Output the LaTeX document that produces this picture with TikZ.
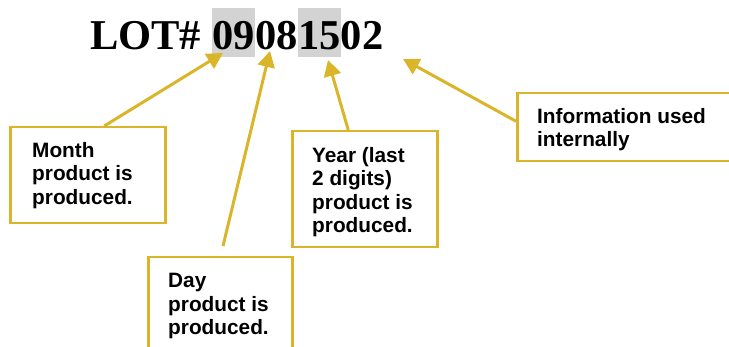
\documentclass[tikz,border=0pt]{standalone}
\usepackage{fontspec}
\setmainfont{Liberation Sans}
\newfontfamily\titlefont{Liberation Serif}
\usetikzlibrary{arrows.meta}
\definecolor{gold}{RGB}{218,181,42}
\definecolor{hl}{RGB}{211,211,211}
\tikzset{
  x=1pt, y=1pt,
  digits/.style={font=\titlefont\bfseries\fontsize{42.5}{48}\selectfont, inner sep=0pt, text height=42pt, text depth=7pt, anchor=base west},
  hilite/.style={digits, fill=hl},
  box/.style={draw=gold, line width=2.5pt, rectangle, inner sep=0pt, anchor=north west},
  label/.style={font=\bfseries\fontsize{20.8}{23.5}\selectfont, align=left, inner sep=0pt, anchor=north west},
  pointer/.style={draw=gold, line width=3pt, -{Triangle[length=16pt,width=17pt]}}
}
\begin{document}
\begin{tikzpicture}
\useasboundingbox (0,0) rectangle (729,-347);
\clip (0,0) rectangle (729,-347);
% title
\node[digits] (lot) at (90,-50) {LOT\#};
\node[hilite] (d09) at ([xshift=10.6pt]lot.base east) {09};
\node[digits] (d08) at (d09.base east) {08};
\node[hilite] (d15) at (d08.base east) {15};
\node[digits] (d02) at (d15.base east) {02};
% boxes
\node[box, minimum width=155pt, minimum height=96pt] (month) at (9,-126) {};
\node[box, minimum width=144pt, minimum height=110pt] (day) at (147,-256) {};
\node[box, minimum width=145pt, minimum height=116pt] (year) at (291,-130) {};
\node[box, minimum width=230pt, minimum height=68pt] (info) at (516,-92) {};
% texts
\node[label] (monthtxt) at (32,-142) {Month\\product is\\produced.};
\node[label] (daytxt) at (168,-273) {Day\\product is\\produced.};
\node[label] (yeartxt) at (312,-147) {Year (last\\2 digits)\\product is\\produced.};
\node[label] (infotxt) at (537,-108) {Information used\\internally};
% arrow ends
\coordinate (tipmonth) at (223,-53);
\coordinate (daytail) at (223,-246);
\coordinate (tipday) at (270,-51);
\coordinate (tipyear) at (328,-60);
\coordinate (tipinfo) at (403,-59);
% arrows
\draw[pointer] ([xshift=16.5pt]month.north) -- (tipmonth);
\draw[pointer] (daytail) -- (tipday);
\draw[pointer] ([xshift=-16.5pt]year.north) -- (tipyear);
\draw[pointer] ([yshift=6pt]info.west) -- (tipinfo);
\end{tikzpicture}
\end{document}
